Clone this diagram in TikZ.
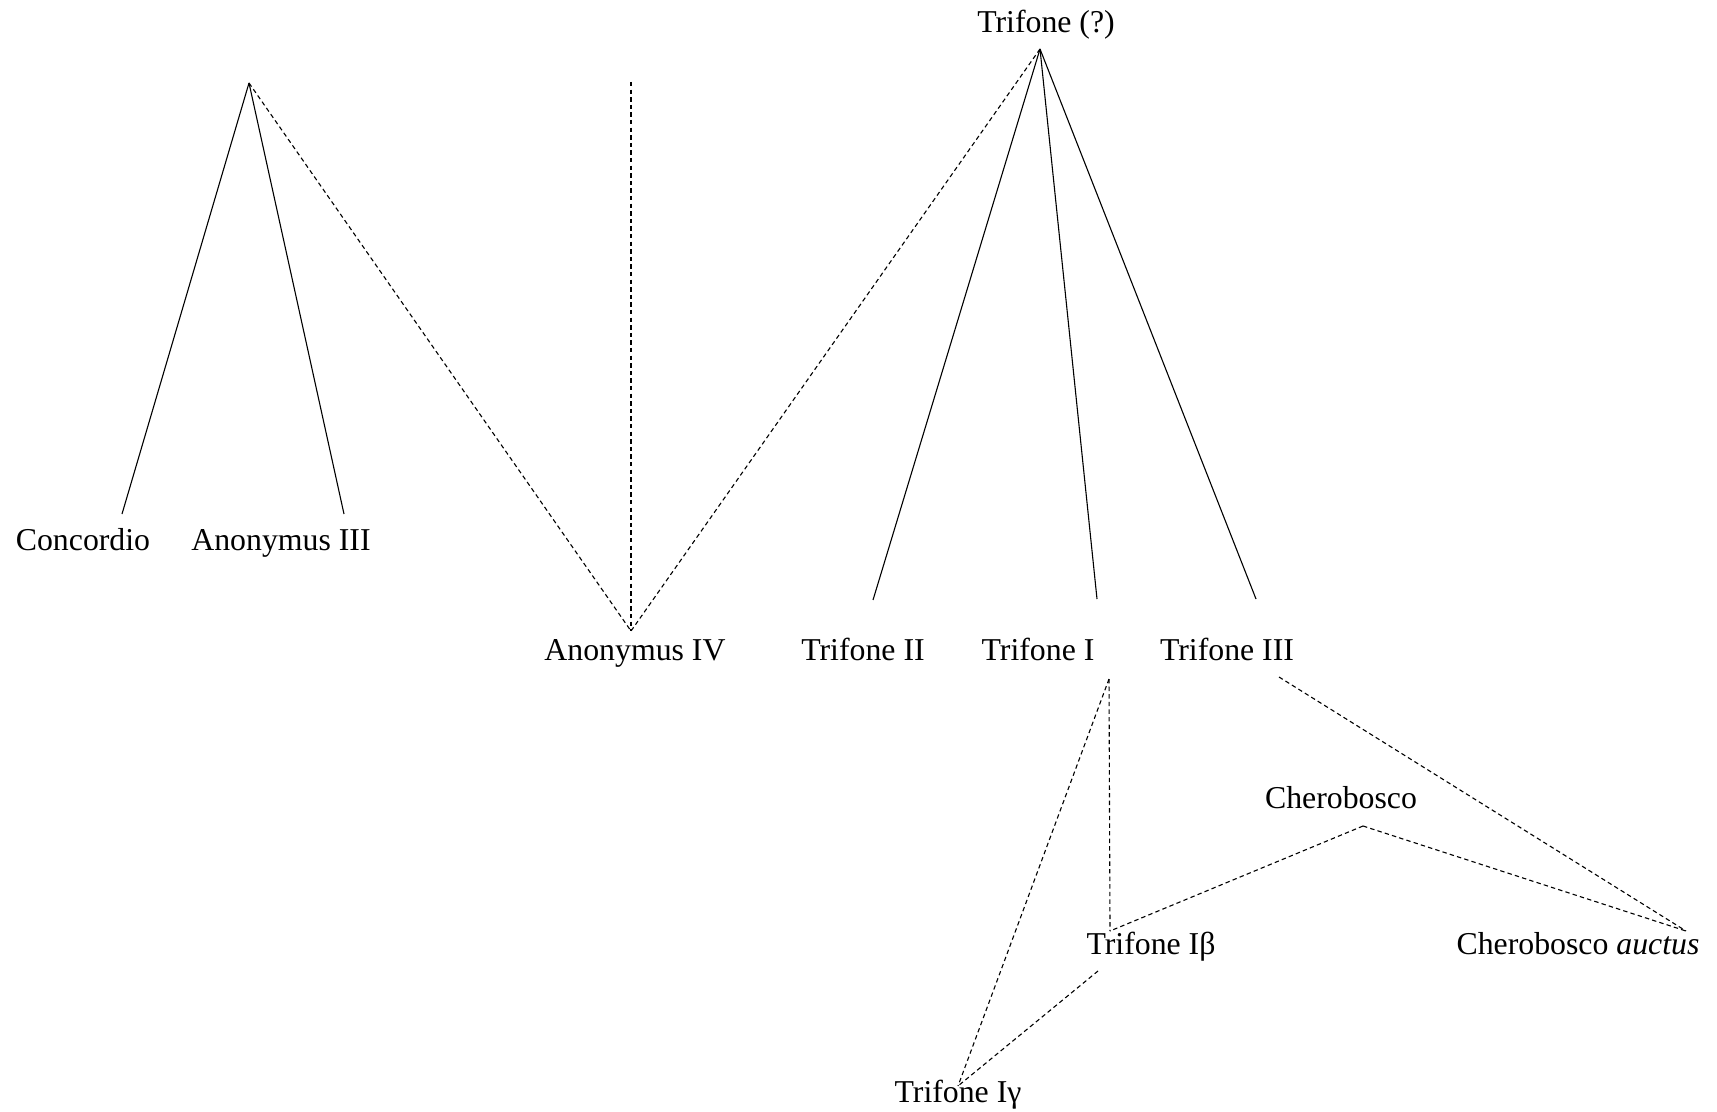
\documentclass[tikz,border=0pt]{standalone}
\usepackage{fontspec}
\setmainfont{Liberation Serif}
\begin{document}
\begin{tikzpicture}[x=0.5pt,y=-0.5pt,
  lbl/.style={anchor=base,inner sep=0pt,font=\fontsize{15.9}{18}\selectfont},
  solidedge/.style={line width=0.55pt},
  dashedge/.style={line width=0.55pt,dash pattern=on 2.2pt off 1.6pt}]
\useasboundingbox (0,0) rectangle (1717,1112);

% labels
\node[lbl] (trq)   at (1046,33)   {Trifone (?)};
\node[lbl] (conc)  at (83,550)    {Concordio};
\node[lbl] (an3)   at (281,550)   {Anonymus III};
\node[lbl] (an4)   at (635,660)   {Anonymus IV};
\node[lbl] (tr2)   at (863,660)   {Trifone II};
\node[lbl] (tr1)   at (1038,660)  {Trifone I};
\node[lbl] (tr3)   at (1227,660)  {Trifone III};
\node[lbl] (cher)  at (1341,808)  {Cherobosco};
\node[lbl] (trb)   at (1151,954)  {Trifone Iβ};
\node[lbl] (cauct) at (1578,954)  {Cherobosco \textit{auctus}};
\node[lbl] (trg)   at (958,1102)  {Trifone Iγ};

% branching points and line ends
\coordinate (topT)   at (1040,49);
\coordinate (topL)   at (249,83);
\coordinate (concE)  at (122,514);
\coordinate (an3E)   at (344,514);
\coordinate (vtop)   at (631,82);
\coordinate (an4A)   at (631,631);
\coordinate (tr2E)   at (873,600);
\coordinate (tr1E)   at (1097,599);
\coordinate (tr3E)   at (1256,599);
\coordinate (tr1A)   at (1109,679);
\coordinate (trbA)   at (1110,931);
\coordinate (trbB)   at (1098,971);
\coordinate (trgA)   at (958,1086);
\coordinate (cherA)  at (1363,826);
\coordinate (cauA)   at (1686,931);
\coordinate (tr3B)   at (1279,677);

% solid edges
\draw[solidedge] (topL) -- (concE);
\draw[solidedge] (topL) -- (an3E);
\draw[solidedge] (topT) -- (tr2E);
\draw[solidedge] (topT) -- (tr1E);
\draw[solidedge] (topT) -- (tr3E);

% dashed edges
\draw[dashedge] (topL) -- (an4A);
\draw[dashedge] (vtop) -- (an4A);
\draw[dashedge] (topT) -- (an4A);
\draw[dashedge] (tr1A) -- (trbA);
\draw[dashedge] (tr1A) -- (trgA);
\draw[dashedge] (trbB) -- (trgA);
\draw[dashedge] (cherA) -- (trbA);
\draw[dashedge] (cherA) -- (cauA);
\draw[dashedge] (tr3B) -- (cauA);
\end{tikzpicture}
\end{document}
